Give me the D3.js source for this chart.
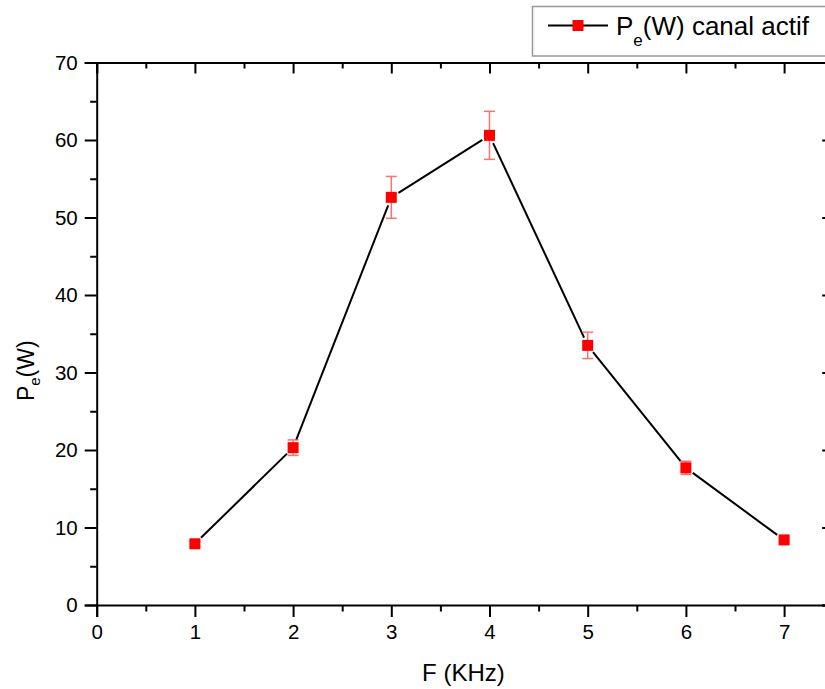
<!DOCTYPE html>
<html>
<head>
<meta charset="utf-8">
<script src="https://cdn.jsdelivr.net/npm/d3@7"></script>
<style>
  html, body { margin: 0; padding: 0; background: #fff; }
  svg { display: block; font-family: "Liberation Sans", Arial, sans-serif; }
</style>
</head>
<body>
<svg id="chart" width="825" height="689"></svg>
<script>
// ---- data ----
const freqKHz = [1, 2, 3, 4, 5, 6, 7];
const powerW  = [7.9, 20.3, 52.6, 60.6, 33.5, 17.7, 8.4];
const errorW  = [0.3, 1.0, 2.7, 3.1, 1.7, 0.85, 0.3];
const xTicks = [0, 1, 2, 3, 4, 5, 6, 7];
const yTicks = [0, 10, 20, 30, 40, 50, 60, 70];
const seriesName = "canal actif";

// ---- layout ----
const svg = d3.select("#chart");
const pLeft = 96.7, pRight = 833.2, pTop = 62.5, pBottom = 605;
const x = d3.scaleLinear().domain([0, 7.5]).range([pLeft, pRight]);
const y = d3.scaleLinear().domain([0, 70]).range([pBottom, pTop]);

const axisColor = "#000";
const tickFont = 20.5;

// minor ticks
const xMinor = d3.range(0.5, 7.5, 1);
const yMinor = d3.range(5, 70, 10);

// bottom axis
svg.append("g").attr("transform", `translate(0,${pBottom})`)
  .call(d3.axisBottom(x).tickValues(xTicks).tickFormat(d3.format("d")).tickSize(12).tickPadding(7));
svg.append("g").attr("transform", `translate(0,${pBottom})`)
  .call(d3.axisBottom(x).tickValues(xMinor).tickFormat("").tickSize(6.5))
  .select(".domain").remove();
// left axis
svg.append("g").attr("transform", `translate(${pLeft},0)`)
  .call(d3.axisLeft(y).tickValues(yTicks).tickFormat(d3.format("d")).tickSize(12).tickPadding(7));
svg.append("g").attr("transform", `translate(${pLeft},0)`)
  .call(d3.axisLeft(y).tickValues(yMinor).tickFormat("").tickSize(6.5))
  .select(".domain").remove();
// top axis (ticks inward)
svg.append("g").attr("transform", `translate(0,${pTop})`)
  .call(d3.axisBottom(x).tickValues(xTicks).tickFormat("").tickSize(11));
svg.append("g").attr("transform", `translate(0,${pTop})`)
  .call(d3.axisBottom(x).tickValues(xMinor).tickFormat("").tickSize(6))
  .select(".domain").remove();
// right axis (ticks inward)
svg.append("g").attr("transform", `translate(${pRight},0)`)
  .call(d3.axisLeft(y).tickValues(yTicks).tickFormat("").tickSize(11));
svg.append("g").attr("transform", `translate(${pRight},0)`)
  .call(d3.axisLeft(y).tickValues(yMinor).tickFormat("").tickSize(6))
  .select(".domain").remove();

svg.selectAll(".domain").attr("stroke", axisColor).attr("stroke-width", 2);
svg.selectAll(".tick line").attr("stroke", axisColor).attr("stroke-width", 2);
svg.selectAll(".tick text").attr("font-size", tickFont).attr("fill", "#000")
  .attr("font-family", "Liberation Sans, Arial, sans-serif");

// axis titles
svg.append("text").attr("x", (x(0) + x(7)) / 2 + 23).attr("y", 681)
  .attr("text-anchor", "middle").attr("font-size", 24).text("F (KHz)");

const yt = svg.append("text").attr("transform", `translate(34,${(y(0)+y(70))/2 + 37}) rotate(-90)`)
  .attr("text-anchor", "middle").attr("font-size", 23);
yt.append("tspan").text("P");
yt.append("tspan").attr("font-size", 15).attr("dy", 6).text("e");
yt.append("tspan").attr("dy", -6).text("(W)");

// data
const pts = freqKHz.map((f, i) => ({ px: x(f), py: y(powerW[i]), e: errorW[i], v: powerW[i] }));

// line segments with gaps near markers
const gap = 8.5;
const lineG = svg.append("g");
for (let i = 0; i < pts.length - 1; i++) {
  const a = pts[i], b = pts[i + 1];
  const dx = b.px - a.px, dy = b.py - a.py, L = Math.hypot(dx, dy);
  const ux = dx / L, uy = dy / L;
  lineG.append("line")
    .attr("x1", a.px + ux * gap).attr("y1", a.py + uy * gap)
    .attr("x2", b.px - ux * gap).attr("y2", b.py - uy * gap)
    .attr("stroke", "#000").attr("stroke-width", 2);
}

// error bars
const errG = svg.append("g").attr("stroke", "#ff4d4d").attr("stroke-width", 1.5).attr("opacity", 0.8);
freqKHz.forEach((f, i) => {
  const cx = x(f), y1 = y(powerW[i] + errorW[i]), y2 = y(powerW[i] - errorW[i]);
  errG.append("line").attr("x1", cx).attr("x2", cx).attr("y1", y1).attr("y2", y2);
  errG.append("line").attr("x1", cx - 5.5).attr("x2", cx + 5.5).attr("y1", y1).attr("y2", y1);
  errG.append("line").attr("x1", cx - 5.5).attr("x2", cx + 5.5).attr("y1", y2).attr("y2", y2);
});

// markers
const ms = 11;
svg.append("g").selectAll("rect").data(pts).join("rect")
  .attr("x", d => d.px - ms / 2).attr("y", d => d.py - ms / 2)
  .attr("width", ms).attr("height", ms).attr("fill", "#ff0000");

// legend
const lg = svg.append("g");
lg.append("rect").attr("x", 532.5).attr("y", 6.5).attr("width", 320).attr("height", 49.5)
  .attr("fill", "#fff").attr("stroke", "#999").attr("stroke-width", 1.5);
lg.append("line").attr("x1", 548).attr("x2", 608).attr("y1", 25.5).attr("y2", 25.5)
  .attr("stroke", "#000").attr("stroke-width", 2);
lg.append("rect").attr("x", 578 - ms / 2).attr("y", 25.5 - ms / 2).attr("width", ms).attr("height", ms)
  .attr("fill", "#ff0000");
const lt = lg.append("text").attr("x", 616).attr("y", 35).attr("font-size", 26);
lt.append("tspan").text("P");
lt.append("tspan").attr("font-size", 17).attr("dy", 11).text("e");
lt.append("tspan").attr("dy", -11).text("(W) " + seriesName);
</script>
</body>
</html>
